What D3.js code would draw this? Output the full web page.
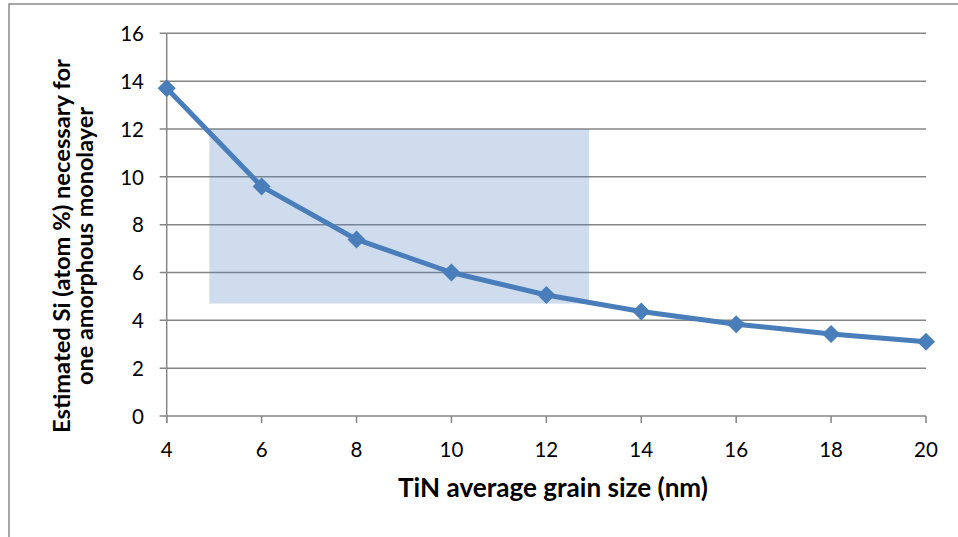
<!DOCTYPE html>
<html>
<head>
<meta charset="utf-8">
<script src="https://cdn.jsdelivr.net/npm/d3@7"></script>
<style>
  html, body { margin: 0; padding: 0; background: #fff; }
  svg { display: block; }
  text { font-family: Lato, "Open Sans", sans-serif; fill: #000; }
</style>
</head>
<body>
<svg id="chart" width="958" height="537"></svg>
<script>
// ---- Data ----
const grainSizes = [4, 6, 8, 10, 12, 14, 16, 18, 20];
const siPercent = [13.7, 9.6, 7.38, 6.0, 5.06, 4.37, 3.84, 3.43, 3.1];
const xTicks = [4, 6, 8, 10, 12, 14, 16, 18, 20];
const yTicks = [0, 2, 4, 6, 8, 10, 12, 14, 16];
const shadedX = [4.9, 12.9];
const shadedY = [4.7, 12];
const xTitle = "TiN average grain size (nm)";
const yTitleLines = ["Estimated Si (atom %) necessary for", "one amorphous monolayer"];

// ---- Layout ----
const svg = d3.select("#chart");
const x = d3.scaleLinear().domain([4, 20]).range([166.7, 926]);
const y = d3.scaleLinear().domain([0, 16]).range([416, 33.3]);
const gridColor = "#868686";
const lineColor = "#4a7ebb";

// outer frame (extends past right/bottom edges)
svg.append("path")
  .attr("d", "M9,540 L9,4 L960,4")
  .attr("fill", "none").attr("stroke", "#8a8a8a").attr("stroke-width", 1.5);

// horizontal gridlines + y tick marks
svg.append("g").selectAll("line").data(yTicks).join("line")
  .attr("x1", x(4) - 7).attr("x2", x(20))
  .attr("y1", d => y(d)).attr("y2", d => y(d))
  .attr("stroke", gridColor).attr("stroke-width", 1.5);

// y axis line
svg.append("line")
  .attr("x1", x(4)).attr("x2", x(4)).attr("y1", y(16)).attr("y2", y(0) + 7)
  .attr("stroke", gridColor).attr("stroke-width", 1.5);

// x tick marks
svg.append("g").selectAll("line").data(xTicks).join("line")
  .attr("x1", d => x(d)).attr("x2", d => x(d))
  .attr("y1", y(0)).attr("y2", y(0) + 7)
  .attr("stroke", gridColor).attr("stroke-width", 1.5);

// shaded rectangle
svg.append("rect")
  .attr("x", x(shadedX[0])).attr("width", x(shadedX[1]) - x(shadedX[0]))
  .attr("y", y(shadedY[1])).attr("height", y(shadedY[0]) - y(shadedY[1]))
  .attr("fill", "#4f81bd").attr("fill-opacity", 0.28);

// y tick labels
svg.append("g").selectAll("text").data(yTicks).join("text")
  .attr("x", 144).attr("y", d => y(d)).attr("dy", "0.38em")
  .attr("text-anchor", "end").attr("font-size", 20.5).text(d => d);

// x tick labels
svg.append("g").selectAll("text").data(xTicks).join("text")
  .attr("x", d => x(d)).attr("y", 457)
  .attr("text-anchor", "middle").attr("font-size", 20.5).text(d => d);

// data line
const pts = grainSizes.map((g, i) => [g, siPercent[i]]);
svg.append("path")
  .datum(pts)
  .attr("d", d3.line().x(d => x(d[0])).y(d => y(d[1])))
  .attr("fill", "none").attr("stroke", lineColor).attr("stroke-width", 5)
  .attr("stroke-linejoin", "round");

// diamond markers
svg.append("g").selectAll("path").data(pts).join("path")
  .attr("transform", d => `translate(${x(d[0])},${y(d[1])})`)
  .attr("d", "M0,-9 L9,0 L0,9 L-9,0 Z")
  .attr("fill", lineColor);

// fit text to a target width by scaling its font size
function fit(sel, target) {
  const w = sel.node().getComputedTextLength();
  const fs = parseFloat(sel.attr("font-size"));
  sel.attr("font-size", fs * target / w);
}

// x title
const xt = svg.append("text")
  .attr("x", 553).attr("y", 497).attr("text-anchor", "middle")
  .attr("font-weight", "bold").attr("font-size", 20).text(xTitle);
fit(xt, 310);

// y title (two lines, rotated)
const yCenter = 246;
const yt1 = svg.append("text")
  .attr("transform", `translate(70,${yCenter}) rotate(-90)`)
  .attr("text-anchor", "middle").attr("font-weight", "bold").attr("font-size", 19)
  .text(yTitleLines[0]);
fit(yt1, 374);
const yt2 = svg.append("text")
  .attr("transform", `translate(93,${yCenter}) rotate(-90)`)
  .attr("text-anchor", "middle").attr("font-weight", "bold").attr("font-size", 19)
  .text(yTitleLines[1]);
fit(yt2, 278);
</script>
</body>
</html>
